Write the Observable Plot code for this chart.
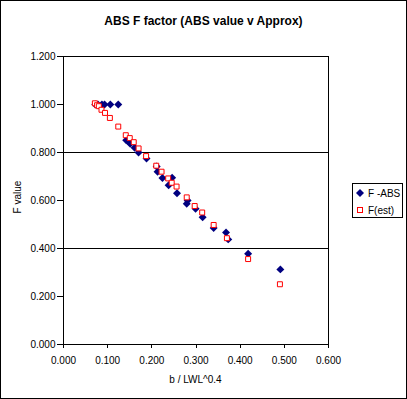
<!DOCTYPE html>
<html>
<head>
<meta charset="utf-8">
<script src="https://cdn.jsdelivr.net/npm/d3@7"></script>
<script src="https://cdn.jsdelivr.net/npm/@observablehq/plot@0.6"></script>
<style>
  html, body { margin: 0; padding: 0; background: #fff; }
  #wrap { position: relative; width: 407px; height: 399px; font-family: Arial, "Liberation Sans", sans-serif; }
  #border { position: absolute; left: 0; top: 0; width: 407px; height: 399px; box-sizing: border-box; border: 1px solid #000; pointer-events: none; }
  #chart { position: absolute; left: 0; top: 0; }
  #chart svg line, #chart svg rect, #chart svg path[stroke="#000"], #chart g[aria-label$="tick"] path { shape-rendering: crispEdges; }
  .lbl { position: absolute; white-space: nowrap; color: #000; }
  #title { left: 0; width: 407px; top: 14px; text-align: center; font-weight: bold; font-size: 12px; }
  #xlab { left: 63px; width: 265px; top: 374px; text-align: center; font-size: 10px; }
  #ylab { left: 17px; top: 197px; font-size: 10px; transform: translate(-50%, -50%) rotate(-90deg); }
  #legend { position: absolute; left: 352px; top: 183px; width: 51px; height: 35px; box-sizing: border-box; border: 1px solid #000; background: #fff; font-size: 10px; }
  .row { position: absolute; left: 3px; display: flex; align-items: center; height: 12px; }
  .row svg { margin-right: 4px; }
</style>
</head>
<body>
<div id="wrap">
  <div id="chart"></div>
  <div id="title" class="lbl">ABS F factor (ABS value v Approx)</div>
  <div id="xlab" class="lbl">b / LWL^0.4</div>
  <div id="ylab" class="lbl">F value</div>
  <div id="legend"></div>
  <div id="border"></div>
</div>
<script>
// Series names
const seriesNames = ["F -ABS", "F(est)"];

// F -ABS (blue diamonds)
const absX = [0.072, 0.078, 0.087, 0.093, 0.106, 0.124, 0.142, 0.147, 0.151, 0.161, 0.170, 0.188, 0.211, 0.213, 0.224, 0.246, 0.238, 0.257, 0.281, 0.279, 0.299, 0.315, 0.340, 0.368, 0.373, 0.418, 0.491];
const absY = [1.000, 1.000, 1.000, 1.000, 1.000, 1.000, 0.851, 0.846, 0.836, 0.820, 0.800, 0.775, 0.742, 0.720, 0.694, 0.695, 0.664, 0.630, 0.600, 0.586, 0.566, 0.530, 0.485, 0.467, 0.438, 0.378, 0.313];

// F(est) (red hollow squares)
const estX = [0.071, 0.076, 0.080, 0.086, 0.094, 0.105, 0.124, 0.141, 0.150, 0.159, 0.170, 0.187, 0.210, 0.222, 0.237, 0.245, 0.256, 0.279, 0.297, 0.314, 0.340, 0.370, 0.418, 0.490];
const estY = [1.005, 0.997, 0.993, 0.978, 0.965, 0.944, 0.908, 0.872, 0.860, 0.843, 0.817, 0.785, 0.745, 0.720, 0.692, 0.674, 0.658, 0.613, 0.577, 0.550, 0.498, 0.443, 0.356, 0.251];

// Axis ticks and gridlines
const xTicks = [0, 0.1, 0.2, 0.3, 0.4, 0.5, 0.6];
const yTicks = [0, 0.2, 0.4, 0.6, 0.8, 1.0, 1.2];
const yGrid = [0.4, 0.8];

const absData = absX.map((x, i) => ({x, y: absY[i]}));
const estData = estX.map((x, i) => ({x, y: estY[i]}));

const blue = "#000080", red = "#ff0000";

// square-proportioned diamond symbol (Excel style)
const excelDiamond = {
  draw(context, size) {
    const h = Math.sqrt(size) * 0.5;
    context.moveTo(0, -h);
    context.lineTo(h, 0);
    context.lineTo(0, h);
    context.lineTo(-h, 0);
    context.closePath();
  }
};

const chart = Plot.plot({
  width: 407,
  height: 399,
  marginLeft: 63,
  marginRight: 79,
  marginTop: 56,
  marginBottom: 55,
  style: { fontFamily: "Arial, 'Liberation Sans', sans-serif", fontSize: "10px", background: "transparent", color: "#000" },
  x: { domain: [0, 0.6] },
  y: { domain: [0, 1.2] },
  marks: [
    Plot.ruleY(yGrid, { stroke: "#000", strokeWidth: 1 }),
    Plot.frame({ stroke: "#000", strokeWidth: 1 }),
    Plot.axisX({ ticks: xTicks, tickFormat: d3.format(".3f"), tickSize: 4, tickPadding: 8, label: null, fontSize: 10, stroke: "#000", strokeOpacity: 1 }),
    Plot.axisY({ ticks: yTicks, tickFormat: d3.format(".3f"), tickSize: 6, tickPadding: 2, label: null, fontSize: 10, stroke: "#000", strokeOpacity: 1 }),
    Plot.dot(absData, { x: "x", y: "y", symbol: excelDiamond, r: 4.5, fill: blue, stroke: "none" }),
    Plot.dot(estData, { x: "x", y: "y", symbol: "square", r: 2.8, fill: "#fff", stroke: red, strokeWidth: 1 })
  ]
});
document.getElementById("chart").appendChild(chart);

// Legend (HTML)
const legend = document.getElementById("legend");
const rows = [
  { name: seriesNames[0], svg: '<svg width="8" height="8"><path d="M4,0L8,4L4,8L0,4Z" fill="' + blue + '"/></svg>', top: 3 },
  { name: seriesNames[1], svg: '<svg width="8" height="8"><rect x="1.5" y="1.5" width="5" height="5" fill="#fff" stroke="' + red + '"/></svg>', top: 20 }
];
rows.forEach(r => {
  const d = document.createElement("div");
  d.className = "row";
  d.style.top = r.top + "px";
  d.innerHTML = r.svg + "<span>" + r.name + "</span>";
  legend.appendChild(d);
});
</script>
</body>
</html>
